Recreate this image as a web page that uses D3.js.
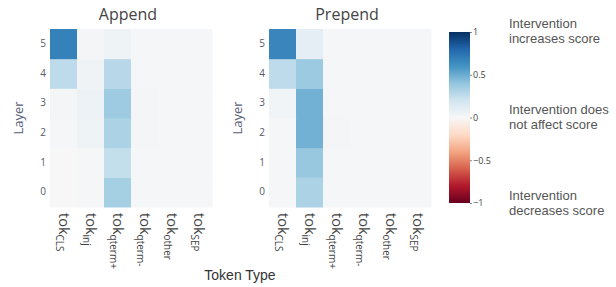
<!DOCTYPE html>
<html>
<head>
<meta charset="utf-8">
<script src="https://cdn.jsdelivr.net/npm/d3@7"></script>
<style>
  body { margin: 0; background: #fff; }
  svg { display: block; }
</style>
</head>
<body>
<div id="chart"></div>
<script>

// token types (main part + subscript) and layers
var tokens = ["CLS", "inj", "qterm+", "qterm-", "other", "SEP"];
var layers = [0, 1, 2, 3, 4, 5];

// values[layer][token], layer 0 first
var appendVals = [
    [0.00, 0.01, 0.34, 0.01, 0.01, 0.01],
    [0.00, 0.01, 0.24, 0.01, 0.01, 0.01],
    [0.01, 0.05, 0.32, 0.02, 0.01, 0.01],
    [0.02, 0.06, 0.36, 0.02, 0.01, 0.01],
    [0.26, 0.04, 0.28, 0.01, 0.01, 0.01],
    [0.68, 0.02, 0.05, 0.01, 0.01, 0.01]
];
var prependVals = [
    [0.01, 0.32, 0.01, 0.01, 0.01, 0.01],
    [0.01, 0.38, 0.01, 0.01, 0.01, 0.01],
    [0.01, 0.48, 0.02, 0.01, 0.01, 0.01],
    [0.03, 0.48, 0.01, 0.01, 0.01, 0.01],
    [0.26, 0.37, 0.01, 0.01, 0.01, 0.01],
    [0.66, 0.10, 0.01, 0.01, 0.01, 0.01]
];

var cbTicks = [1, 0.5, 0, -0.5, -1];
var notes = [
    ["Intervention", "increases score"],
    ["Intervention does", "not affect score"],
    ["Intervention", "decreases score"]
];

var width = 616, height = 287;
var plotTop = 29, plotBottom = 207;

var svg = d3.select("#chart").append("svg")
    .attr("width", width)
    .attr("height", height);

// RdBu stops, -1 red .. 1 blue
var rdbu = d3.piecewise(d3.interpolateRgb, ["#67001f", "#b2182b", "#d6604d", "#f4a582", "#fddbc7",
    "#f7f7f7", "#d1e5f0", "#92c5de", "#4393c3", "#2166ac", "#053061"]);
var color = function(v) { return rdbu((v + 1) / 2); };

function heatmap(x0, title, vals) {
    var x = d3.scaleBand().domain(tokens).range([x0, x0 + 162]);
    var y = d3.scaleBand().domain(layers).range([plotBottom, plotTop]);

    var g = svg.append("g");

    var cells = [];
    vals.forEach(function(row, li) {
        row.forEach(function(v, ti) {
            cells.push({layer: layers[li], tok: tokens[ti], v: v});
        });
    });

    g.selectAll("rect")
        .data(cells)
        .enter()
        .append("rect")
        .attr("x", function(d) { return x(d.tok); })
        .attr("y", function(d) { return y(d.layer); })
        .attr("width", x.bandwidth() + 0.5)
        .attr("height", y.bandwidth() + 0.5)
        .attr("fill", function(d) { return color(d.v); });

    // y axis
    var ya = g.append("g")
        .attr("transform", "translate(" + (x0 - 4) + ",0)")
        .call(d3.axisLeft(y).tickSize(0).tickPadding(0));
    ya.select(".domain").remove();
    ya.selectAll("text")
        .attr("font-family", "Open Sans, sans-serif")
        .attr("font-size", 10)
        .attr("fill", "#555b66");

    g.append("text")
        .attr("transform", "translate(" + (x0 - 27) + "," + ((plotTop + plotBottom) / 2) + ") rotate(-90)")
        .attr("text-anchor", "middle")
        .attr("font-family", "Open Sans, sans-serif")
        .attr("font-size", 13)
        .attr("fill", "#5a6078")
        .text("Layer");

    // x labels, rotated
    var xl = g.selectAll(".xlab")
        .data(tokens)
        .enter()
        .append("text")
        .attr("class", "xlab")
        .attr("transform", function(d) {
            return "translate(" + (x(d) + x.bandwidth() / 2 - 5) + "," + (plotBottom + 6) + ") rotate(90)";
        })
        .attr("font-family", "Open Sans, sans-serif")
        .attr("fill", "#444");
    xl.append("tspan").attr("font-size", 14.5).text("tok");
    xl.append("tspan")
        .attr("font-size", 10)
        .attr("dy", 3)
        .text(function(d) { return d; });

    g.append("text")
        .attr("x", x0 + 78)
        .attr("y", 20)
        .attr("text-anchor", "middle")
        .attr("font-family", "Open Sans, sans-serif")
        .attr("font-size", 16)
        .attr("fill", "#444")
        .text(title);
}

heatmap(50, "Append", appendVals);
heatmap(269, "Prepend", prependVals);

svg.append("text")
    .attr("x", 240)
    .attr("y", 280)
    .attr("text-anchor", "middle")
    .attr("font-family", "Liberation Sans, Arial, sans-serif")
    .attr("font-size", 14)
    .attr("fill", "#333")
    .text("Token Type");

// colorbar
var cb = d3.scaleLinear().domain([-1, 1]).range([203, 32]);
var grad = svg.append("defs").append("linearGradient")
    .attr("id", "cbgrad")
    .attr("x1", 0).attr("y1", 1).attr("x2", 0).attr("y2", 0);
d3.range(0, 1.0001, 0.05).forEach(function(t) {
    grad.append("stop")
        .attr("offset", t)
        .attr("stop-color", rdbu(t));
});
svg.append("rect")
    .attr("x", 449)
    .attr("y", cb(1))
    .attr("width", 21)
    .attr("height", cb(-1) - cb(1))
    .attr("fill", "url(#cbgrad)");

var cba = svg.append("g")
    .attr("transform", "translate(470,0)")
    .call(d3.axisRight(cb).tickValues(cbTicks).tickSize(2).tickPadding(1)
        .tickFormat(function(d) { return d < 0 ? "\u2212" + Math.abs(d) : d; }));
cba.select(".domain").remove();
cba.selectAll("line").attr("stroke", "#888");
cba.selectAll("text")
    .attr("font-family", "Open Sans, sans-serif")
    .attr("font-size", 9)
    .attr("fill", "#444");

// side notes
var noteY = [24, 110, 196];
notes.forEach(function(lines, i) {
    var t = svg.append("text")
        .attr("x", 509)
        .attr("y", noteY[i] + 4)
        .attr("font-family", "Liberation Sans, Arial, sans-serif")
        .attr("font-size", 13)
        .attr("fill", "#555");
    lines.forEach(function(s, j) {
        t.append("tspan").attr("x", 509).attr("dy", j ? 15 : 0).text(s);
    });
});

</script>
</body>
</html>
